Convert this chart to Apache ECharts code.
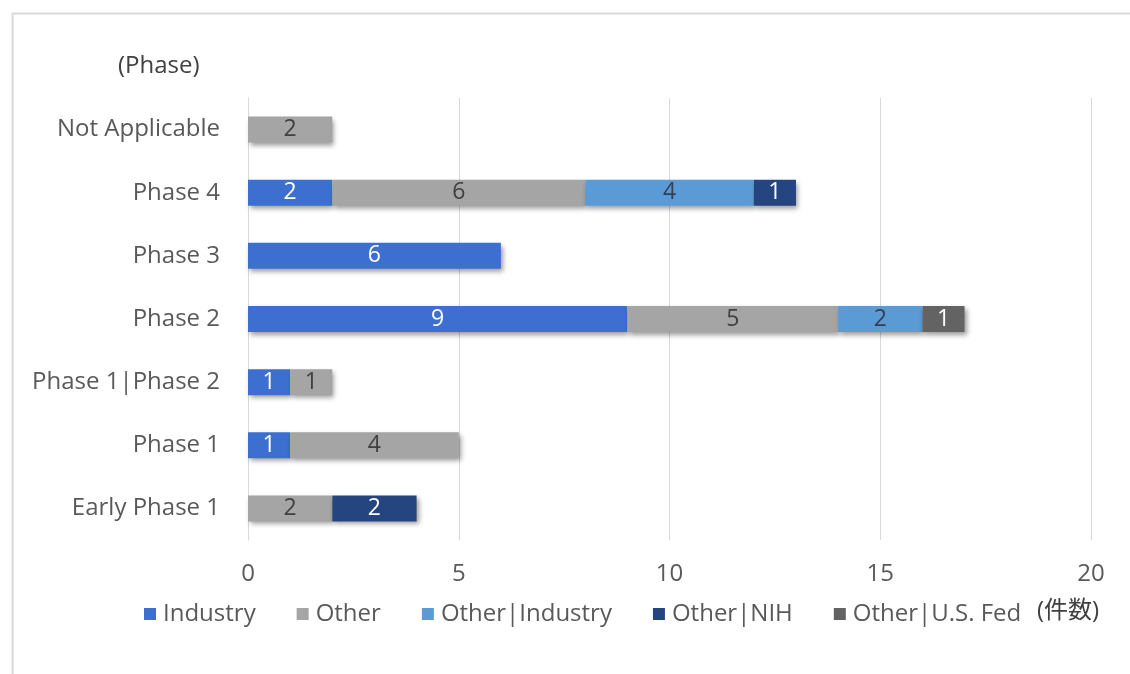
<!DOCTYPE html>
<html>
<head>
<meta charset="utf-8">
<script src="https://cdn.jsdelivr.net/npm/echarts@6/dist/echarts.min.js"></script>
<style>
html,body{margin:0;padding:0;background:#fff;}
#chart{width:1130px;height:674px;}
</style>
</head>
<body>
<div id="chart"></div>
<script>
const categories = ['Early Phase 1','Phase 1','Phase 1|Phase 2','Phase 2','Phase 3','Phase 4','Not Applicable'];
const seriesNames = ['Industry','Other','Other|Industry','Other|NIH','Other|U.S. Fed'];
const industry      = [null, 1, 1, 9, 6, 2, null];
const other         = [2, 4, 1, 5, null, 6, 2];
const otherIndustry = [null, null, null, 2, null, 4, null];
const otherNIH      = [2, null, null, null, null, 1, null];
const otherUSFed    = [null, null, null, 1, null, null, null];
const xTicks = [0, 5, 10, 15, 20];

const colors = ['#3c6fd0', '#a5a5a5', '#5b9bd5', '#24457f', '#636363'];
const labelColors = ['#ffffff', '#404040', '#333f55', '#ffffff', '#ffffff'];
const dataSets = [industry, other, otherIndustry, otherNIH, otherUSFed];
const FONT = '"Open Sans","Noto Sans CJK JP",sans-serif';

const chart = echarts.init(document.getElementById('chart'));
chart.setOption({
  animation: false,
  textStyle: {fontFamily: FONT},
  color: colors,
  grid: {left: 248, right: 39, top: 98, bottom: 134, containLabel: false},
  legend: {
    data: seriesNames,
    left: 139, top: 597,
    itemWidth: 12, itemHeight: 12, itemGap: 41,
    icon: 'rect',
    textStyle: {fontSize: 24, color: '#595959', fontFamily: FONT, padding: [0, 0, 0, 2]}
  },
  xAxis: {
    type: 'value', min: xTicks[0], max: xTicks[xTicks.length - 1], interval: 5,
    axisLine: {show: false}, axisTick: {show: false},
    splitLine: {lineStyle: {color: '#d9d9d9', width: 1}},
    axisLabel: {fontSize: 24, color: '#595959', margin: 22}
  },
  yAxis: {
    type: 'category', data: categories,
    axisLine: {show: true, lineStyle: {color: '#d9d9d9'}},
    axisTick: {show: false},
    axisLabel: {fontSize: 24, color: '#595959', margin: 28}
  },
  graphic: [
    {type: 'rect', left: 10, top: 11, shape: {width: 1140, height: 700}, style: {fill: 'none', stroke: '#d9d9d9', lineWidth: 2}, silent: true},
    {type: 'text', left: 118, top: 54, style: {text: '(Phase)', fontSize: 24, fill: '#404040', fontFamily: FONT}},
    {type: 'text', left: 1037, top: 599, style: {text: '(件数)', fontSize: 24, fill: '#404040', fontFamily: FONT}}
  ],
  series: seriesNames.map((name, i) => ({
    name: name,
    type: 'bar',
    stack: 'total',
    barWidth: 26,
    data: dataSets[i],
    itemStyle: {
      color: colors[i],
      shadowColor: 'rgba(0,0,0,0.4)', shadowBlur: 5, shadowOffsetX: 2, shadowOffsetY: 3
    },
    label: {show: true, position: 'inside', fontSize: 23, color: labelColors[i], fontFamily: FONT}
  }))
});
</script>
</body>
</html>
